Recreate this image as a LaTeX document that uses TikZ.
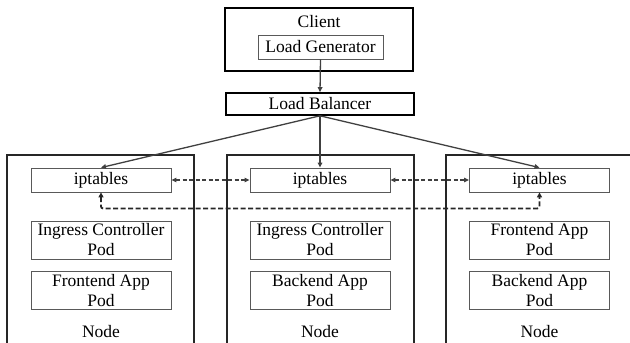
\documentclass[tikz,border=0pt]{standalone}
\usepackage{fontspec}
\setmainfont{Liberation Serif}
\usetikzlibrary{arrows.meta}
\begin{document}
\begin{tikzpicture}[x=1pt,y=-1pt,
  txt/.style={font=\fontsize{17.5}{20}\selectfont, align=center, inner sep=0pt},
  box/.style={txt, draw=black!65, line width=0.8pt, minimum width=140pt, minimum height=24pt},
  pod/.style={box, minimum height=38pt},
  bigbox/.style={draw=black, line width=1.6pt, inner sep=0pt},
  nodebox/.style={draw=black!85, line width=1.6pt, inner sep=0pt},
  arr/.style={draw=black!75, line width=1.3pt, -{Triangle[length=5pt,width=4.5pt]}},
  darr/.style={draw=black!75, line width=1.2pt, dash pattern=on 4pt off 2.5pt, {Triangle[length=5pt,width=4.5pt]}-{Triangle[length=5pt,width=4.5pt]}},
  ddarr/.style={draw=black!85, line width=1.8pt, dash pattern=on 5pt off 2.5pt, {Triangle[length=5pt,width=5pt]}-{Triangle[length=5pt,width=5pt]}}
]
\useasboundingbox (0,0) rectangle (630,343);
\clip (0,0) rectangle (630,343);

% Client and load balancer
\node[bigbox, minimum width=188pt, minimum height=63pt] (client) at (319,39.5) {};
\node[txt] (clientlbl) at (319,22) {Client};
\node[box, minimum width=125pt] (lg) at (320.5,47) {Load Generator};
\node[bigbox, txt, minimum width=188pt, minimum height=22pt] (lb) at (320,104) {Load Balancer};

% Kubernetes nodes (open at the bottom / right)
\node[nodebox, minimum width=187pt, minimum height=206pt, anchor=north west] (n1) at (6,154) {};
\node[nodebox, minimum width=187pt, minimum height=206pt, anchor=north west] (n2) at (226,154) {};
\node[nodebox, minimum width=230pt, minimum height=206pt, anchor=north west] (n3) at (445,154) {};

% iptables
\node[box] (ipt1) at (101,180) {iptables};
\node[box] (ipt2) at (320,180) {iptables};
\node[box] (ipt3) at (539.5,180) {iptables};

% pods
\node[pod] (p11) at (101,240) {Ingress Controller\\Pod};
\node[pod] (p12) at (101,290.5) {Frontend App\\Pod};
\node[pod] (p21) at (320,240) {Ingress Controller\\Pod};
\node[pod] (p22) at (320,290.5) {Backend App\\Pod};
\node[pod] (p31) at (539.5,240) {Frontend App\\Pod};
\node[pod] (p32) at (539.5,290.5) {Backend App\\Pod};

% node labels
\node[txt] (l1) at (101,332) {Node};
\node[txt] (l2) at (320,332) {Node};
\node[txt] (l3) at (539.5,332) {Node};

% connectors
\draw[arr] (lg.south) -- (lb.north);
\draw[arr] (lb.south) -- (ipt1.north);
\draw[arr] (lb.south) -- (ipt2.north);
\draw[arr] (lb.south) -- (ipt3.north);
\draw[darr] (ipt1.east) -- (ipt2.west);
\draw[darr] (ipt2.east) -- (ipt3.west);
\draw[ddarr, rounded corners=2pt] (ipt1.south) -- ++(0,16) -| (ipt3.south);
\end{tikzpicture}
\end{document}
